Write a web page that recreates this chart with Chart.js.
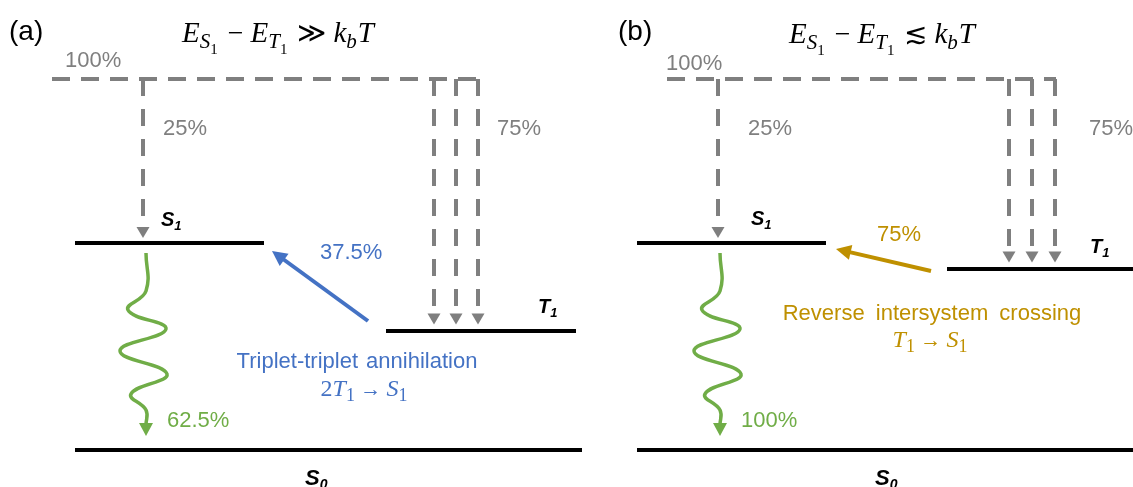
<!DOCTYPE html>
<html><head><meta charset="utf-8">
<script src="https://cdn.jsdelivr.net/npm/chart.js@4.4.1/dist/chart.umd.min.js"></script>
<style>html,body{margin:0;padding:0;background:#fff;overflow:hidden}#wrap{width:1133px;height:487px}</style>
</head><body><div id="wrap"><canvas id="c" width="1133" height="487"></canvas></div>
<script>
// ---------------- data ----------------
const panels = ['(a)', '(b)'];
const levelNames = ['S0', 'S1', 'T1'];
const energyA = [0, 2.07, 1.19];          // S0, S1, T1 (a.u.)
const energyB = [0, 2.07, 1.81];
const excitationEnergy = [3.71, 3.71];
const pctA = [100, 25, 75, 37.5, 62.5];   // excitation, ->S1, ->T1, T1->S1, emission
const pctB = [100, 25, 75, 75, 100];
const processNames = ['Triplet-triplet annihilation', 'Reverse intersystem crossing'];
const conditionOps = ['\u226B', '\u2272'];

// ---------------- styles / layout ----------------
const GRAY = '#7f7f7f', GREEN = '#70ad47', BLUE = '#4472c4', GOLD = '#bf9000', BLACK = '#000000';
const SANS = '"Liberation Sans", Arial, sans-serif';
const SERIF = '"Liberation Serif", "DejaVu Serif", serif';
const layout = [
  { S0: [75, 582], S1: [75, 264], T1: [386, 576], exc: [52, 481], sArrow: 143, tArrows: [434, 456, 478],
    transfer: { fromX: 368, fromDy: 0.10, toX: 272, toDy: -0.08 }, wave: 146, color: BLUE,
    titleX: 278, titleY: 4.08, tagX: 9, pctExcX: 65, pctExcY: 3.83, pctSX: 163, pctTX: 497,
    pctTrX: 320, pctTrY: 1.91, pctEmX: 167, s1LabX: 161, s1LabY: 2.24, t1LabX: 538, t1LabY: 1.37, s0LabX: 305,
    procX: 357, procY: 0.82, eqX: 364, eqY: 0.54, eq: 'tta', wordSp: 2 },
  { S0: [637, 1133], S1: [637, 826], T1: [947, 1133], exc: [667, 1056], sArrow: 718, tArrows: [1009, 1032, 1055],
    transfer: { fromX: 931, fromDy: -0.02, toX: 836, toDy: -0.06 }, wave: 720, color: GOLD,
    titleX: 882, titleY: 4.07, tagX: 618, pctExcX: 666, pctExcY: 3.80, pctSX: 748, pctTX: 1089,
    pctTrX: 877, pctTrY: 2.09, pctEmX: 741, s1LabX: 751, s1LabY: 2.25, t1LabX: 1090, t1LabY: 1.97, s0LabX: 875,
    procX: 932, procY: 1.30, eqX: 930, eqY: 1.03, eq: 'risc', wordSp: 5 }
];
// wave shape: [dx (x-units), depth below S1 (energy units)]
const waveShape = [[0,0.10],[0,0.48],[-18,0.67],[20,0.86],[-26,1.08],[21,1.31],[-15,1.51],[0,1.67],[0,1.82],[0,1.93]];

function seg(x0, x1, y) { return [{ x: x0, y: y }, { x: x1, y: y }]; }

const datasets = [];
[energyA, energyB].forEach((E, p) => {
  const L = layout[p];
  const S0 = E[0], S1 = E[1], T1 = E[2];
  // energy levels
  datasets.push({ data: seg(L.S0[0], L.S0[1], S0), borderColor: BLACK, borderWidth: 4 });
  datasets.push({ data: seg(L.S1[0], L.S1[1], S1), borderColor: BLACK, borderWidth: 4 });
  datasets.push({ data: seg(L.T1[0], L.T1[1], T1), borderColor: BLACK, borderWidth: 4 });
  // excitation (100 %)
  const ex = excitationEnergy[p];
  datasets.push({ data: seg(L.exc[0], L.exc[1], ex), borderColor: GRAY, borderWidth: 4, borderDash: [18, 11] });
  // 25 % to S1
  datasets.push({ data: [{ x: L.sArrow, y: ex }, { x: L.sArrow, y: S1 + 0.05 }], borderColor: GRAY, borderWidth: 4,
    borderDash: [17, 13], arrow: { len: 11, half: 6.5 } });
  // 75 % to T1 (three arrows)
  L.tArrows.forEach(x => datasets.push({ data: [{ x: x, y: ex }, { x: x, y: T1 + 0.065 }], borderColor: GRAY,
    borderWidth: 4, borderDash: [17, 13], arrow: { len: 11, half: 6.5 } }));
  // T1 -> S1 up-conversion
  datasets.push({ data: [{ x: L.transfer.fromX, y: T1 + L.transfer.fromDy }, { x: L.transfer.toX, y: S1 + L.transfer.toDy }],
    borderColor: L.color, borderWidth: 4, arrow: { len: 15, half: 7.5 } });
  // emission (wavy)
  datasets.push({ data: waveShape.map(w => ({ x: L.wave + w[0], y: S1 - w[1] })), borderColor: GREEN, borderWidth: 3.5,
    tension: 0.45, arrow: { len: 13, half: 7 } });
});

// arrow-head plugin
const arrowPlugin = {
  id: 'arrowheads',
  beforeDatasetDraw(chart, args) {
    const ds = chart.data.datasets[args.index];
    if (!ds.arrow) return;
    const pts = args.meta.data, n = pts.length;
    const tip = pts[n - 1], prev = pts[n - 2];
    const ang = Math.atan2(tip.y - prev.y, tip.x - prev.x);
    ds._tip = { x: tip.x, y: tip.y, ang: ang, cp1x: tip.cp1x, cp1y: tip.cp1y };
    const bx = tip.x - Math.cos(ang) * (ds.arrow.len - 1), by = tip.y - Math.sin(ang) * (ds.arrow.len - 1);
    tip.x = bx; tip.y = by;
    if (tip.cp1x !== undefined) { tip.cp1x = bx; tip.cp1y = by - 2; }
  },
  afterDatasetDraw(chart, args) {
    const ds = chart.data.datasets[args.index];
    if (!ds.arrow || !ds._tip) return;
    const pts = args.meta.data, tip = pts[pts.length - 1], t = ds._tip;
    tip.x = t.x; tip.y = t.y;
    if (t.cp1x !== undefined) { tip.cp1x = t.cp1x; tip.cp1y = t.cp1y; }
    const ctx = chart.ctx, a = t.ang, L = ds.arrow.len, H = ds.arrow.half;
    const bx = t.x - Math.cos(a) * L, by = t.y - Math.sin(a) * L;
    ctx.save();
    ctx.fillStyle = ds.borderColor;
    ctx.beginPath();
    ctx.moveTo(t.x, t.y);
    ctx.lineTo(bx + Math.sin(a) * H, by - Math.cos(a) * H);
    ctx.lineTo(bx - Math.sin(a) * H, by + Math.cos(a) * H);
    ctx.closePath();
    ctx.fill();
    ctx.restore();
  }
};

// text helpers
function runsWidth(ctx, runs) { let w = 0; runs.forEach(r => { ctx.font = r.f; w += ctx.measureText(r.t).width + (r.k || 0); }); return w; }
function drawRuns(ctx, runs, x, y, align, color) {
  const w = runsWidth(ctx, runs);
  let cx = align === 'center' ? x - w / 2 : x;
  ctx.fillStyle = color; ctx.textAlign = 'left'; ctx.textBaseline = 'alphabetic';
  runs.forEach(r => { ctx.font = r.f; ctx.fillText(r.t, cx, y + (r.dy || 0)); cx += ctx.measureText(r.t).width + (r.k || 0); });
}
const it = s => 'italic ' + s + 'px ' + SERIF;
const up = s => s + 'px ' + SERIF;
function titleRuns(op) {
  return [{ t: 'E', f: it(29) }, { t: 'S', f: it(21), dy: 6 }, { t: '1', f: up(15), dy: 12, k: 3 },
    { t: ' \u2212 ', f: up(28) }, { t: 'E', f: it(29) }, { t: 'T', f: it(21), dy: 6 }, { t: '1', f: up(15), dy: 12, k: 3 },
    { t: ' ' + op + ' ', f: up(28) }, { t: 'k', f: it(29) }, { t: 'b', f: it(21), dy: 6, k: 1 }, { t: 'T', f: it(29) }];
}
function eqRuns(kind) {
  const r = [];
  if (kind === 'tta') r.push({ t: '2', f: up(24) });
  r.push({ t: 'T', f: it(24) }, { t: '1', f: up(18), dy: 5 }, { t: ' \u2192 ', f: up(21) }, { t: 'S', f: it(24) }, { t: '1', f: up(18), dy: 5 });
  return r;
}
function stateRuns(name, big) {
  return [{ t: name[0], f: 'italic bold ' + (big ? 22 : 20) + 'px ' + SANS }, { t: name[1], f: 'italic bold ' + (big ? 14 : 13) + 'px ' + SANS, dy: 4 }];
}
const fmt = v => v + '%';

const textPlugin = {
  id: 'texts',
  afterDraw(chart) {
    const ctx = chart.ctx, xs = chart.scales.x, ys = chart.scales.y;
    const X = v => xs.getPixelForValue(v), Y = v => ys.getPixelForValue(v);
    ctx.save();
    [pctA, pctB].forEach((P, p) => {
      const L = layout[p], E = p === 0 ? energyA : energyB;
      ctx.font = '28px ' + SANS; ctx.fillStyle = BLACK; ctx.textAlign = 'left'; ctx.textBaseline = 'alphabetic';
      ctx.fillText(panels[p], X(L.tagX), Y(4.10));
      drawRuns(ctx, titleRuns(conditionOps[p]), X(L.titleX), Y(L.titleY), 'center', BLACK);
      ctx.font = '22px ' + SANS; ctx.fillStyle = GRAY; ctx.textAlign = 'left';
      ctx.fillText(fmt(P[0]), X(L.pctExcX), Y(L.pctExcY));
      ctx.fillText(fmt(P[1]), X(L.pctSX), Y(3.15));
      ctx.fillText(fmt(P[2]), X(L.pctTX), Y(3.15));
      ctx.fillStyle = L.color; ctx.fillText(fmt(P[3]), X(L.pctTrX), Y(L.pctTrY));
      ctx.fillStyle = GREEN; ctx.fillText(fmt(P[4]), X(L.pctEmX), Y(0.23));
      // process name + equation
      ctx.fillStyle = L.color; ctx.textAlign = 'center'; ctx.font = '22px ' + SANS;
      ctx.wordSpacing = L.wordSp + 'px';
      ctx.fillText(processNames[p], X(L.procX), Y(L.procY));
      ctx.wordSpacing = '0px';
      drawRuns(ctx, eqRuns(L.eq), X(L.eqX), Y(L.eqY), 'center', L.color);
      // state labels
      drawRuns(ctx, stateRuns(levelNames[1]), X(L.s1LabX), Y(L.s1LabY), 'left', BLACK);
      drawRuns(ctx, stateRuns(levelNames[2]), X(L.t1LabX), Y(L.t1LabY), 'left', BLACK);
      drawRuns(ctx, stateRuns(levelNames[0], true), X(L.s0LabX), Y(E[0] - 0.345), 'left', BLACK);
    });
    ctx.restore();
  }
};

new Chart(document.getElementById('c'), {
  type: 'scatter',
  data: { datasets: datasets.map(d => Object.assign({ showLine: true, pointRadius: 0, pointHoverRadius: 0, fill: false,
    borderCapStyle: 'butt', clip: false }, d)) },
  options: {
    responsive: false, animation: false, devicePixelRatio: 1,
    layout: { padding: 0 },
    events: [],
    plugins: { legend: { display: false }, tooltip: { enabled: false } },
    scales: {
      x: { type: 'linear', min: 0, max: 1133, display: false },
      y: { type: 'linear', min: -0.37, max: 4.5, display: false }
    }
  },
  plugins: [arrowPlugin, textPlugin]
});
</script></body></html>
